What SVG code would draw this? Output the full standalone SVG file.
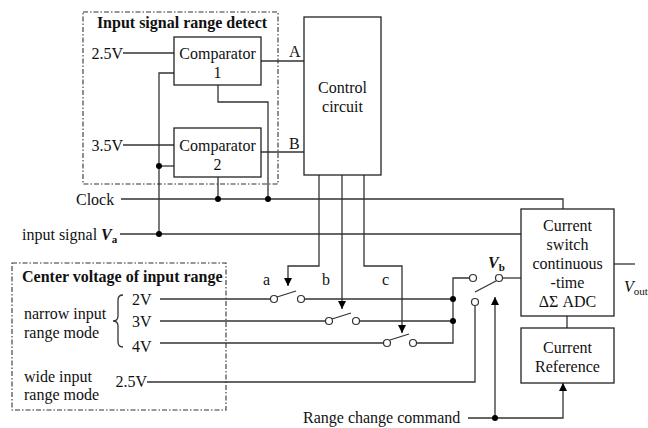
<svg xmlns="http://www.w3.org/2000/svg" width="648" height="428" viewBox="0 0 648 428" font-family="'Liberation Serif', 'DejaVu Serif', serif">
<defs>
<style>
text{font-family:'Liberation Serif','DejaVu Serif',serif;font-size:16px;fill:#111}
.b{font-weight:bold}
.m{text-anchor:middle}
.e{text-anchor:end}
.box{fill:#fff;stroke:#222;stroke-width:1.3}
.dash{fill:none;stroke:#333;stroke-width:1.1;stroke-dasharray:5 2 1.5 2}
.w{fill:none;stroke:#333;stroke-width:1.3}
.c{fill:#fff;stroke:#333;stroke-width:1.2}
.d{fill:#000}
</style>
<marker id="ar" markerWidth="8" markerHeight="10" refX="8" refY="4" orient="auto" markerUnits="userSpaceOnUse">
<path d="M0,0 L8,4 L0,8 Z" fill="#000"/>
</marker>
</defs>
<rect width="648" height="428" fill="#fff"/>

<g id="detect-group">
<rect class="dash" x="83" y="12" width="195" height="172"/>
<text class="b m" x="182" y="28">Input signal range detect</text>
<text class="e" x="123" y="59">2.5V</text>
<text class="e" x="123" y="151">3.5V</text>
</g>

<g id="center-group">
<rect class="dash" x="12" y="263" width="214" height="147"/>
<text class="b" x="22" y="282">Center voltage of input range</text>
<text x="24" y="319">narrow input</text>
<text x="24" y="338">range mode</text>
<text x="24" y="382">wide input</text>
<text x="24" y="400">range mode</text>
<text x="132" y="305">2V</text>
<text x="132" y="327">3V</text>
<text x="132" y="352">4V</text>
<text class="e" x="147" y="387">2.5V</text>
<path class="w" d="M123,295 Q118,295 118,300 L118,316 Q118,321 113,321 Q118,321 118,326 L118,342 Q118,347 123,347" stroke-width="1.1"/>
</g>

<g id="connectors">
<path class="w" d="M123,53 H174"/>
<path class="w" d="M123,145 H174"/>
<path class="w" d="M174,73 H159 V234"/>
<path class="w" d="M159,166 H174"/>
<path class="w" d="M218,85 V102 H268 V199"/>
<path class="w" d="M218,177 V199"/>
<path class="w" d="M261,61 H304"/>
<path class="w" d="M261,152 H304"/>
<path class="w" d="M121,199 H563 V209"/>
<path class="w" d="M120,234 H521"/>
<path class="w" d="M319,175 V266 H288 V286" marker-end="url(#ar)"/>
<path class="w" d="M342,175 V309" marker-end="url(#ar)"/>
<path class="w" d="M364,175 V266 H402 V333" marker-end="url(#ar)"/>
<path class="w" d="M160,299 H270.5"/>
<path class="w" d="M304.5,299 H453"/>
<path class="w" d="M160,321 H325.5"/>
<path class="w" d="M359.5,321 H453"/>
<path class="w" d="M160,343 H383.5"/>
<path class="w" d="M416.5,343 H453 V278 H469.5"/>
<path class="w" d="M147,382 H475 V305.5"/>
<path class="w" d="M502.5,278 H521"/>
<path class="w" d="M277,297 L296,291"/>
<path class="w" d="M332,319 L351,313"/>
<path class="w" d="M390,340 L409,334"/>
<path class="w" d="M475,292 L496,281"/>
<circle class="c" cx="274" cy="299" r="3.5"/>
<circle class="c" cx="301" cy="299" r="3.5"/>
<circle class="c" cx="329" cy="321" r="3.5"/>
<circle class="c" cx="356" cy="321" r="3.5"/>
<circle class="c" cx="387" cy="343" r="3.5"/>
<circle class="c" cx="413" cy="343" r="3.5"/>
<circle class="c" cx="473" cy="278" r="3.5"/>
<circle class="c" cx="499" cy="278" r="3.5"/>
<circle class="c" cx="475" cy="302" r="3.5"/>
<path class="w" d="M468,418 H563 V383" marker-end="url(#ar)"/>
<path class="w" d="M495,418 V297" marker-end="url(#ar)"/>
<path class="w" d="M567,316 V328"/>
<path class="w" d="M614,264 H635"/>
<circle class="d" cx="159" cy="166" r="3"/>
<circle class="d" cx="159" cy="234" r="3"/>
<circle class="d" cx="218" cy="199" r="3"/>
<circle class="d" cx="268" cy="199" r="3"/>
<circle class="d" cx="453" cy="299" r="3"/>
<circle class="d" cx="453" cy="321" r="3"/>
<circle class="d" cx="495" cy="418" r="3"/>
<text x="289" y="57">A</text>
<text x="289" y="149">B</text>
<text x="76" y="205">Clock</text>
<text x="22" y="240">input signal <tspan class="b" font-style="italic">V</tspan><tspan class="b" font-size="11" dy="3">a</tspan></text>
<text x="263" y="285">a</text>
<text x="322" y="285">b</text>
<text x="382" y="285">c</text>
<text x="488" y="268" class="b"><tspan font-style="italic">V</tspan><tspan font-size="11" dy="3">b</tspan></text>
<text x="624" y="292"><tspan font-style="italic">V</tspan><tspan font-size="11" dy="3">out</tspan></text>
<text x="303" y="423">Range change command</text>
</g>

<g id="comparator1">
<rect class="box" x="174" y="37" width="87" height="48"/>
<text class="m" x="217.5" y="59">Comparator</text>
<text class="m" x="217.5" y="78">1</text>
</g>
<g id="comparator2">
<rect class="box" x="174" y="128" width="87" height="49"/>
<text class="m" x="217.5" y="151">Comparator</text>
<text class="m" x="217.5" y="170">2</text>
</g>
<g id="control">
<rect class="box" x="304" y="17" width="77" height="158"/>
<text class="m" x="342.5" y="93">Control</text>
<text class="m" x="342.5" y="112">circuit</text>
</g>
<g id="adc">
<rect class="box" x="521" y="209" width="93" height="107"/>
<text class="m" x="567.5" y="231">Current</text>
<text class="m" x="567.5" y="250">switch</text>
<text class="m" x="567.5" y="269">continuous</text>
<text class="m" x="567.5" y="288">-time</text>
<text class="m" x="567.5" y="307">ΔΣ ADC</text>
</g>
<g id="reference">
<rect class="box" x="521" y="328" width="93" height="55"/>
<text class="m" x="567.5" y="353">Current</text>
<text class="m" x="567.5" y="372">Reference</text>
</g>
</svg>
